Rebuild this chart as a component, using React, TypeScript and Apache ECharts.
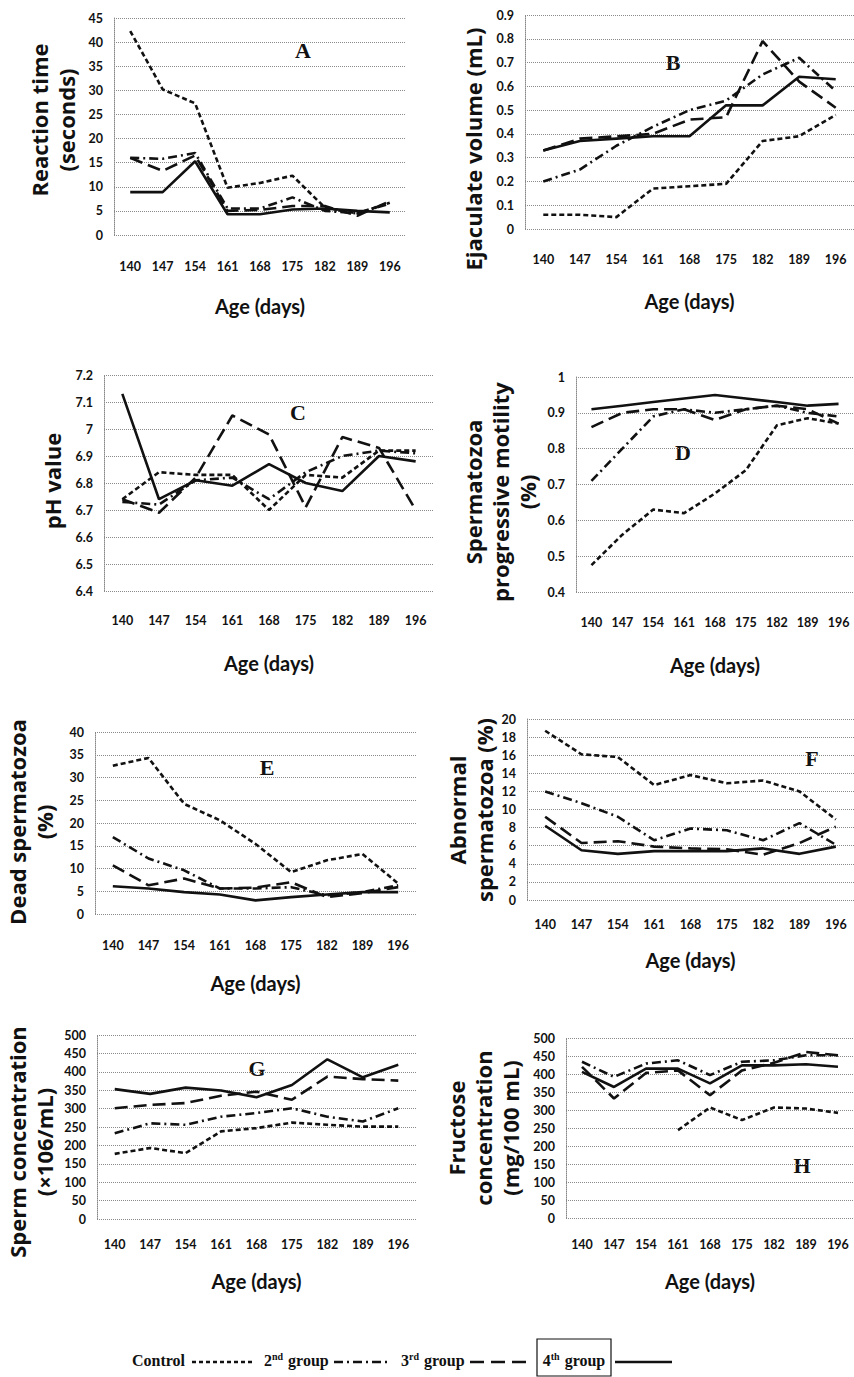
import React, { useEffect, useRef } from 'react';
import * as echarts from 'echarts';

const ageDays = ['140', '147', '154', '161', '168', '175', '182', '189', '196'];
const groupNames = ['Control', '2nd group', '3rd group', '4th group'];

// A: Reaction time (seconds)
const reactionControl = [42.3, 30.2, 27.3, 9.8, 10.8, 12.3, 5.7, 4.5, 6.7];
const reaction2nd = [16.0, 15.8, 17.0, 5.5, 5.5, 7.8, 5.0, 4.5, 6.5];
const reaction3rd = [16.0, 13.3, 16.5, 5.0, 5.2, 6.0, 6.0, 4.0, 7.0];
const reaction4th = [8.9, 8.9, 15.3, 4.3, 4.3, 5.3, 5.5, 5.0, 4.7];

// B: Ejaculate volume (mL)
const volumeControl = [0.06, 0.06, 0.05, 0.17, 0.18, 0.19, 0.37, 0.39, 0.48];
const volume2nd = [0.2, 0.25, 0.35, 0.43, 0.5, 0.54, 0.65, 0.72, 0.58];
const volume3rd = [0.33, 0.38, 0.39, 0.4, 0.46, 0.47, 0.79, 0.62, 0.51];
const volume4th = [0.33, 0.37, 0.38, 0.39, 0.39, 0.52, 0.52, 0.64, 0.63];

// C: pH value
const phControl = [6.74, 6.84, 6.83, 6.83, 6.7, 6.83, 6.82, 6.92, 6.92];
const ph2nd = [6.73, 6.72, 6.81, 6.82, 6.74, 6.84, 6.9, 6.92, 6.91];
const ph3rd = [6.74, 6.69, 6.82, 7.05, 6.98, 6.71, 6.97, 6.93, 6.7];
const ph4th = [7.13, 6.74, 6.81, 6.79, 6.87, 6.8, 6.77, 6.9, 6.88];

// D: Spermatozoa progressive motility (%)
const motilityControl = [0.475, 0.56, 0.63, 0.62, 0.675, 0.74, 0.865, 0.885, 0.87];
const motility2nd = [0.71, 0.8, 0.89, 0.91, 0.9, 0.91, 0.92, 0.9, 0.89];
const motility3rd = [0.86, 0.9, 0.91, 0.91, 0.88, 0.91, 0.92, 0.91, 0.87];
const motility4th = [0.91, 0.92, 0.93, 0.94, 0.95, 0.94, 0.93, 0.92, 0.925];

// E: Dead spermatozoa (%)
const deadControl = [32.6, 34.3, 24.2, 20.6, 15.4, 9.2, 11.8, 13.2, 6.7];
const dead2nd = [16.9, 12.2, 9.6, 5.6, 5.6, 5.9, 4.1, 4.8, 6.3];
const dead3rd = [10.7, 6.3, 7.8, 5.6, 5.8, 7.0, 3.7, 4.6, 5.9];
const dead4th = [6.1, 5.6, 4.8, 4.3, 3.0, 3.7, 4.3, 4.8, 4.8];

// F: Abnormal spermatozoa (%)
const abnormalControl = [18.7, 16.1, 15.8, 12.7, 13.8, 12.9, 13.2, 12.0, 8.9];
const abnormal2nd = [12.0, 10.7, 9.2, 6.6, 7.9, 7.7, 6.6, 8.5, 6.1];
const abnormal3rd = [9.2, 6.3, 6.5, 5.9, 5.7, 5.6, 5.0, 6.3, 8.1];
const abnormal4th = [8.2, 5.5, 5.1, 5.4, 5.4, 5.4, 5.7, 5.1, 5.9];

// G: Sperm concentration (x106/mL)
const concControl = [177, 193, 179, 238, 247, 262, 256, 251, 251];
const conc2nd = [233, 260, 256, 278, 288, 301, 278, 265, 301];
const conc3rd = [301, 310, 315, 335, 346, 324, 387, 380, 376];
const conc4th = [353, 340, 357, 349, 331, 364, 434, 385, 419];

// H: Fructose concentration (mg/100 mL)
const fructoseControl = [null, null, null, 244, 307, 272, 307, 304, 292];
const fructose2nd = [434, 392, 429, 438, 397, 434, 438, 452, 452];
const fructose3rd = [420, 332, 403, 410, 341, 410, 431, 461, 452];
const fructose4th = [406, 364, 415, 415, 374, 424, 424, 427, 420];

const panelLetters = ['A', 'B', 'C', 'D', 'E', 'F', 'G', 'H'];
const yTitles = [
  'Reaction time\n(seconds)',
  'Ejaculate volume (mL)',
  'pH value',
  'Spermatozoa\nprogressive motility\n(%)',
  'Dead spermatozoa\n(%)',
  'Abnormal\nspermatozoa (%)',
  'Sperm concentration\n(×106/mL)',
  'Fructose\nconcentration\n(mg/100 mL)',
];
const yRanges = [
  [0, 45, 5],
  [0, 0.9, 0.1],
  [6.4, 7.2, 0.1],
  [0.4, 1, 0.1],
  [0, 40, 5],
  [0, 20, 2],
  [0, 500, 50],
  [0, 500, 50],
];
const panelData = [
  [reactionControl, reaction2nd, reaction3rd, reaction4th],
  [volumeControl, volume2nd, volume3rd, volume4th],
  [phControl, ph2nd, ph3rd, ph4th],
  [motilityControl, motility2nd, motility3rd, motility4th],
  [deadControl, dead2nd, dead3rd, dead4th],
  [abnormalControl, abnormal2nd, abnormal3rd, abnormal4th],
  [concControl, conc2nd, conc3rd, conc4th],
  [fructoseControl, fructose2nd, fructose3rd, fructose4th],
];

// Layout (pixels)
const layout = [
  { left: 114, width: 292, top: 18, height: 217, labelMargin: 25, nameGap: 61, title: [52, 120], letter: [303, 50] },
  { left: 525, width: 332, top: 15, height: 214, labelMargin: 24, nameGap: 62, title: [473, 149], letter: [673, 62] },
  { left: 104, width: 330, top: 375, height: 216, labelMargin: 23, nameGap: 62, title: [52, 481], letter: [298, 412] },
  { left: 576, width: 281, top: 377, height: 215, labelMargin: 24, nameGap: 63, title: [500, 492], letter: [683, 452] },
  { left: 95, width: 321, top: 732, height: 182, labelMargin: 25, nameGap: 59, title: [30, 822], letter: [267, 767] },
  { left: 527, width: 328, top: 719, height: 181, labelMargin: 18, nameGap: 50, title: [470, 810], letter: [812, 758] },
  { left: 97, width: 319, top: 1035, height: 184, labelMargin: 19, nameGap: 52, title: [30, 1142], letter: [257, 1068] },
  { left: 566, width: 293, top: 1038, height: 180, labelMargin: 20, nameGap: 53, title: [483, 1128], letter: [802, 1165] },
];

const INK = '#111';
const lineTypes: any[] = [[5, 3], [9, 4, 2, 4], [13, 6], 'solid'];
const tickFont = 'Lato, sans-serif';
const titleFont = "'Open Sans', Lato, sans-serif";
const serifFont = "'Liberation Serif', 'DejaVu Serif', serif";

function buildOption() {
  const grid: any[] = [];
  const xAxis: any[] = [];
  const yAxis: any[] = [];
  const series: any[] = [];
  const graphic: any[] = [];

  layout.forEach((l, i) => {
    grid.push({ left: l.left, top: l.top, width: l.width, height: l.height, containLabel: false });
    xAxis.push({
      type: 'category',
      gridIndex: i,
      data: ageDays,
      boundaryGap: true,
      axisLine: { show: false },
      axisTick: { show: false },
      axisLabel: { interval: 0, margin: l.labelMargin, color: INK, fontWeight: 'bold', fontSize: 12.5, fontFamily: tickFont },
      name: 'Age (days)',
      nameLocation: 'middle',
      nameGap: l.nameGap,
      nameTextStyle: { color: INK, fontWeight: 'bold', fontSize: 20, fontFamily: tickFont },
    });
    const [mn, mx, iv] = yRanges[i];
    yAxis.push({
      type: 'value',
      gridIndex: i,
      min: mn,
      max: mx,
      interval: iv,
      axisLine: { show: true, lineStyle: { color: '#888', type: 'dotted', width: 1 } },
      axisTick: { show: false },
      axisLabel: { margin: 11, color: INK, fontWeight: 'bold', fontSize: 12.5, fontFamily: tickFont },
      splitLine: { show: true, lineStyle: { color: '#8a8a8a', type: 'dotted', width: 1 } },
    });
    panelData[i].forEach((arr, g) => {
      series.push({
        type: 'line',
        name: groupNames[g],
        xAxisIndex: i,
        yAxisIndex: i,
        data: arr,
        symbol: 'none',
        connectNulls: false,
        lineStyle: { color: INK, width: 2.6, type: lineTypes[g] },
        z: 3 + g,
      });
    });
    graphic.push({
      type: 'text',
      x: l.title[0],
      y: l.title[1],
      rotation: Math.PI / 2,
      style: {
        text: yTitles[i],
        fill: INK,
        font: `bold 22px ${titleFont}`,
        align: 'center',
        verticalAlign: 'middle',
        lineHeight: 27,
      },
    });
    graphic.push({
      type: 'text',
      x: l.letter[0],
      y: l.letter[1],
      style: {
        text: panelLetters[i],
        fill: INK,
        font: `bold 22px ${serifFont}`,
        align: 'center',
        verticalAlign: 'middle',
      },
    });
  });

  // Legend (drawn manually to match the original)
  const ly = 1360;
  const legendFont = `bold 16px ${serifFont}`;
  const rich = {
    b: { fontSize: 16, fontWeight: 'bold', fontFamily: serifFont, fill: INK },
    s: { fontSize: 10, fontWeight: 'bold', fontFamily: serifFont, fill: INK, padding: [0, 1, 7, 0] },
  };
  graphic.push({ type: 'text', x: 185, y: ly, style: { text: 'Control', font: legendFont, fill: INK, align: 'right', verticalAlign: 'middle' } });
  graphic.push({ type: 'line', shape: { x1: 192, y1: ly + 2, x2: 252, y2: ly + 2 }, style: { stroke: INK, lineWidth: 2.4, lineDash: [4, 3] } });
  graphic.push({ type: 'text', x: 264, y: ly, style: { text: '{b|2}{s|nd}{b| group}', rich, align: 'left', verticalAlign: 'middle' } });
  graphic.push({ type: 'line', shape: { x1: 334, y1: ly + 2, x2: 388, y2: ly + 2 }, style: { stroke: INK, lineWidth: 2.4, lineDash: lineTypes[1] } });
  graphic.push({ type: 'text', x: 401, y: ly, style: { text: '{b|3}{s|rd}{b| group}', rich, align: 'left', verticalAlign: 'middle' } });
  graphic.push({ type: 'line', shape: { x1: 470, y1: ly + 2, x2: 526, y2: ly + 2 }, style: { stroke: INK, lineWidth: 2.4, lineDash: [14, 7] } });
  graphic.push({ type: 'rect', shape: { x: 537, y: 1339, width: 74, height: 37 }, style: { fill: 'none', stroke: INK, lineWidth: 1.2 } });
  graphic.push({ type: 'text', x: 574, y: ly, style: { text: '{b|4}{s|th}{b| group}', rich, align: 'center', verticalAlign: 'middle' } });
  graphic.push({ type: 'line', shape: { x1: 615, y1: ly + 2, x2: 672, y2: ly + 2 }, style: { stroke: INK, lineWidth: 2.4 } });

  return {
    animation: false,
    backgroundColor: '#ffffff',
    grid,
    xAxis,
    yAxis,
    series,
    graphic,
  };
}

export default function App() {
  const ref = useRef<HTMLDivElement>(null);
  useEffect(() => {
    if (!ref.current) return;
    const chart = echarts.init(ref.current, undefined, { renderer: 'svg' });
    chart.setOption(buildOption() as any);
    return () => chart.dispose();
  }, []);
  return (
    <div
      ref={ref}
      style={{ position: 'absolute', left: 0, top: 0, width: 854, height: 1377, background: '#fff' }}
    />
  );
}
